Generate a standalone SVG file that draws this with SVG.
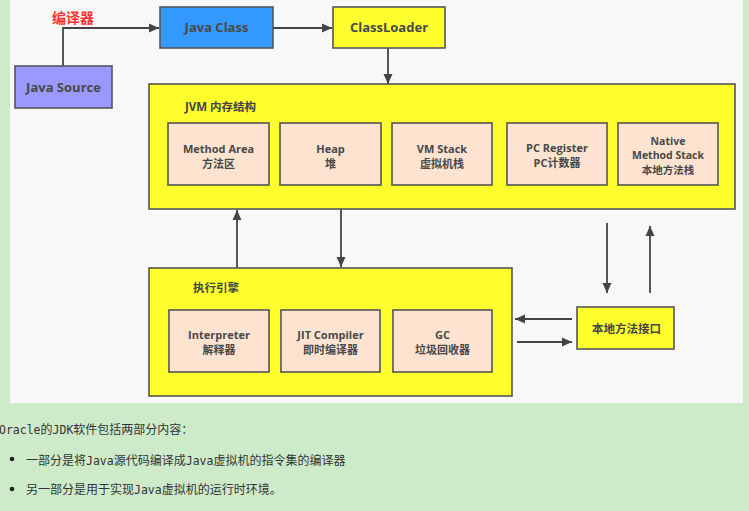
<svg xmlns="http://www.w3.org/2000/svg" width="749" height="511" viewBox="0 0 749 511">
<defs>
<marker id="ah" viewBox="0 0 10 10" refX="10" refY="5" markerWidth="10" markerHeight="10" markerUnits="userSpaceOnUse" orient="auto">
<path d="M0,0.5 L10,5 L0,9.5 Z" fill="#444"/>
</marker>
<style>
.box{stroke:#555;stroke-width:1.6}
.yel{fill:#ffff2e}
.pch{fill:#fde3d0}
.t{font-family:"Open Sans","Noto Sans CJK SC",sans-serif;font-weight:bold;fill:#484848;text-anchor:middle}
.big{font-size:13px}
.sm{font-size:11px}
.xs{font-size:10.5px}
.lbl{font-family:"Open Sans","Noto Sans CJK SC",sans-serif;font-weight:bold;fill:#444;font-size:11.5px}
.conn{stroke:#444;stroke-width:1.8;fill:none}
.para{font-family:"Noto Sans CJK SC",sans-serif;font-size:12px;fill:#333}
.mono{font-family:"DejaVu Sans Mono",monospace;font-size:11.5px}
</style>
</defs>
<rect x="0" y="0" width="749" height="511" fill="#cdebc9"/>
<rect x="10" y="0" width="733" height="403" fill="#f8f8f8"/>

<g id="connectors">
<polyline class="conn" points="63,66 63,28 159,28" marker-end="url(#ah)"/>
<line class="conn" x1="273" y1="28" x2="332" y2="28" marker-end="url(#ah)"/>
<line class="conn" x1="388" y1="48" x2="388" y2="84" marker-end="url(#ah)"/>
<line class="conn" x1="237" y1="268" x2="237" y2="210" marker-end="url(#ah)"/>
<line class="conn" x1="341" y1="209" x2="341" y2="267" marker-end="url(#ah)"/>
<line class="conn" x1="607" y1="223" x2="607" y2="293" marker-end="url(#ah)"/>
<line class="conn" x1="650" y1="293" x2="650" y2="226" marker-end="url(#ah)"/>
<line class="conn" x1="572" y1="319" x2="515" y2="319" marker-end="url(#ah)"/>
<line class="conn" x1="517" y1="342" x2="572" y2="342" marker-end="url(#ah)"/>
<text x="52" y="23" font-family="Noto Sans CJK SC,sans-serif" font-weight="bold" font-size="14px" fill="#ff3030">编译器</text>
</g>

<g id="java-source">
<rect class="box" x="15" y="66" width="97" height="42" fill="#9999ff"/>
<text class="t big" x="63.5" y="92">Java Source</text>
</g>
<g id="java-class">
<rect class="box" x="160" y="7" width="113" height="41" fill="#3399ff"/>
<text class="t big" x="216.5" y="32">Java Class</text>
</g>
<g id="classloader">
<rect class="box yel" x="333" y="7" width="112" height="41"/>
<text class="t big" x="389" y="32">ClassLoader</text>
</g>

<g id="jvm-memory">
<rect class="box yel" x="149" y="84" width="586" height="125"/>
<text class="lbl" x="185" y="111" font-size="12px">JVM 内存结构</text>
</g>
<g id="method-area">
<rect class="box pch" x="168" y="123" width="101" height="62"/>
<text class="t sm" x="218.5" y="153">Method Area</text>
<text class="t sm" x="218.5" y="168">方法区</text>
</g>
<g id="heap">
<rect class="box pch" x="280" y="123" width="101" height="62"/>
<text class="t sm" x="330.5" y="153">Heap</text>
<text class="t sm" x="330.5" y="168">堆</text>
</g>
<g id="vm-stack">
<rect class="box pch" x="392" y="123" width="100" height="62"/>
<text class="t sm" x="442" y="153">VM Stack</text>
<text class="t sm" x="442" y="168">虚拟机栈</text>
</g>
<g id="pc-register">
<rect class="box pch" x="507" y="123" width="100" height="62"/>
<text class="t sm" x="557" y="152">PC Register</text>
<text class="t sm" x="557" y="167">PC计数器</text>
</g>
<g id="native-method-stack">
<rect class="box pch" x="618" y="123" width="100" height="62"/>
<text class="t xs" x="668" y="145">Native</text>
<text class="t xs" x="668" y="159">Method Stack</text>
<text class="t xs" x="668" y="173.5">本地方法栈</text>
</g>

<g id="execution-engine">
<rect class="box yel" x="149" y="268" width="363" height="128"/>
<text class="lbl" x="193" y="292">执行引擎</text>
</g>
<g id="interpreter">
<rect class="box pch" x="169" y="310" width="100" height="62"/>
<text class="t sm" x="219" y="339">Interpreter</text>
<text class="t sm" x="219" y="354">解释器</text>
</g>
<g id="jit-compiler">
<rect class="box pch" x="281" y="310" width="99" height="62"/>
<text class="t sm" x="330.5" y="339">JIT Compiler</text>
<text class="t sm" x="330.5" y="354">即时编译器</text>
</g>
<g id="gc">
<rect class="box pch" x="393" y="310" width="99" height="62"/>
<text class="t sm" x="442.5" y="339">GC</text>
<text class="t sm" x="442.5" y="354">垃圾回收器</text>
</g>

<g id="native-interface">
<rect class="box yel" x="577" y="307" width="97" height="42"/>
<text class="lbl" x="592" y="333">本地方法接口</text>
</g>

<text class="para" x="-1" y="434"><tspan class="mono">Oracle</tspan>的<tspan class="mono">JDK</tspan>软件包括两部分内容：</text>
<circle cx="12" cy="459" r="2.3" fill="#222"/>
<text class="para" x="26" y="465">一部分是将<tspan class="mono">Java</tspan>源代码编译成<tspan class="mono">Java</tspan>虚拟机的指令集的编译器</text>
<circle cx="12" cy="489" r="2.3" fill="#222"/>
<text class="para" x="26" y="494">另一部分是用于实现<tspan class="mono">Java</tspan>虚拟机的运行时环境。</text>
</svg>
